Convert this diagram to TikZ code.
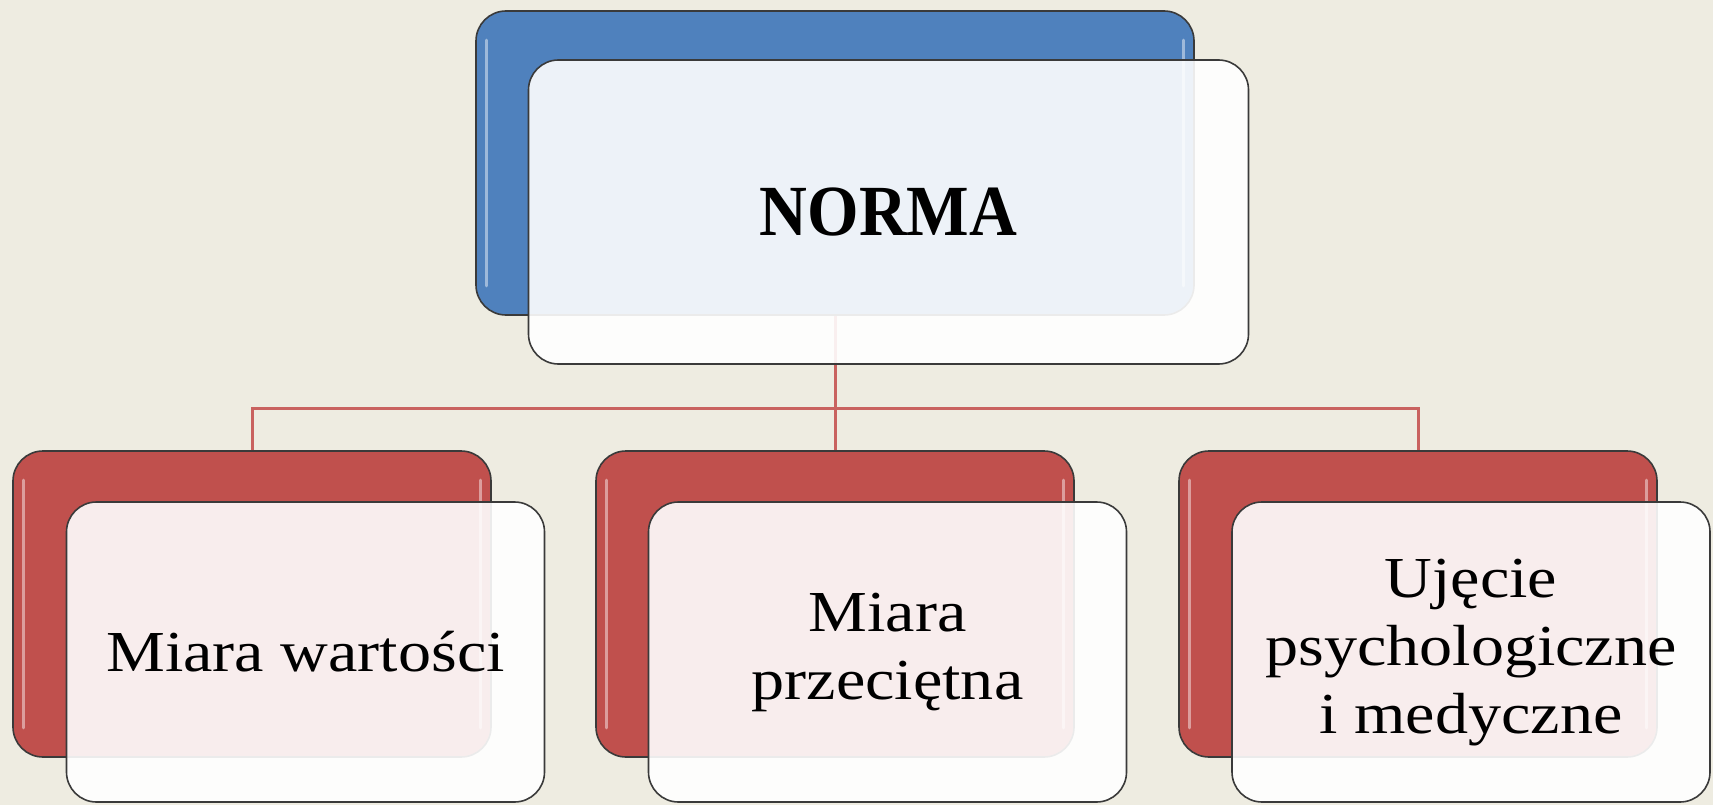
\documentclass[tikz,border=0pt]{standalone}
\usepackage{fontspec}
\setmainfont{Liberation Serif}[FakeStretch=1.14]
\newfontfamily\normafont{Liberation Serif}[FakeStretch=0.92]
\definecolor{bgc}{HTML}{EEECE1}
\definecolor{blueacc}{HTML}{4F81BD}
\definecolor{redacc}{HTML}{C0504D}
\definecolor{edgec}{HTML}{3A3A3A}
\definecolor{linkc}{HTML}{C9625F}
\tikzset{
  backbox/.style={draw=edgec, line width=1.6pt, rounded corners=30pt, inner sep=0pt},
  frontbox/.style={draw=edgec, line width=1.6pt, rounded corners=30pt, inner sep=0pt,
     fill=white, fill opacity=0.9, text opacity=1, align=center,
     minimum width=478pt, minimum height=300pt},
  gloss/.style={white, line width=3pt, line cap=round, opacity=0.45},
  link/.style={linkc, line width=3pt},
  bodytext/.style={font=\fontsize{58}{68}\selectfont},
}
\begin{document}
\begin{tikzpicture}[x=1pt,y=-1pt]
\useasboundingbox (0,0) rectangle (1713,805);
\fill[bgc] (0,0) rectangle (1713,805);
% back coloured boxes
\node[backbox, fill=blueacc, minimum width=718pt, minimum height=304pt] (top) at (835,163) {};
\node[backbox, fill=redacc, minimum width=478pt, minimum height=306pt] (r1) at (252,604) {};
\node[backbox, fill=redacc, minimum width=478pt, minimum height=306pt] (r2) at (835,604) {};
\node[backbox, fill=redacc, minimum width=478pt, minimum height=306pt] (r3) at (1418,604) {};
% gloss highlights
\foreach \b in {top,r1,r2,r3}{
  \draw[gloss] ([xshift=11pt,yshift=-30pt]\b.north west) -- ([xshift=11pt,yshift=30pt]\b.south west);
  \draw[gloss] ([xshift=-11pt,yshift=-30pt]\b.north east) -- ([xshift=-11pt,yshift=30pt]\b.south east);
}
% connectors
\coordinate (j) at (835,408);
\draw[link] (top.south) -- (j);
\draw[link] (r1.north) |- (j) -| (r3.north);
\draw[link] (j) -- (r2.north);
% front boxes
\node[frontbox, minimum width=720pt, minimum height=304pt,
      font=\fontsize{72}{80}\normafont\bfseries] (topf) at (888.5,212) {NORMA};
\node[frontbox, bodytext] (f1) at (305.5,652) {Miara wartości};
\node[frontbox, bodytext] (f2) at (887.5,652) {\raisebox{-6pt}{\begin{tabular}{@{}c@{}}Miara\\przeciętna\end{tabular}}};
\node[frontbox, bodytext] (f3) at (1471,652) {\raisebox{-6pt}{\begin{tabular}{@{}c@{}}Ujęcie\\psychologiczne\\i medyczne\end{tabular}}};
\end{tikzpicture}
\end{document}
